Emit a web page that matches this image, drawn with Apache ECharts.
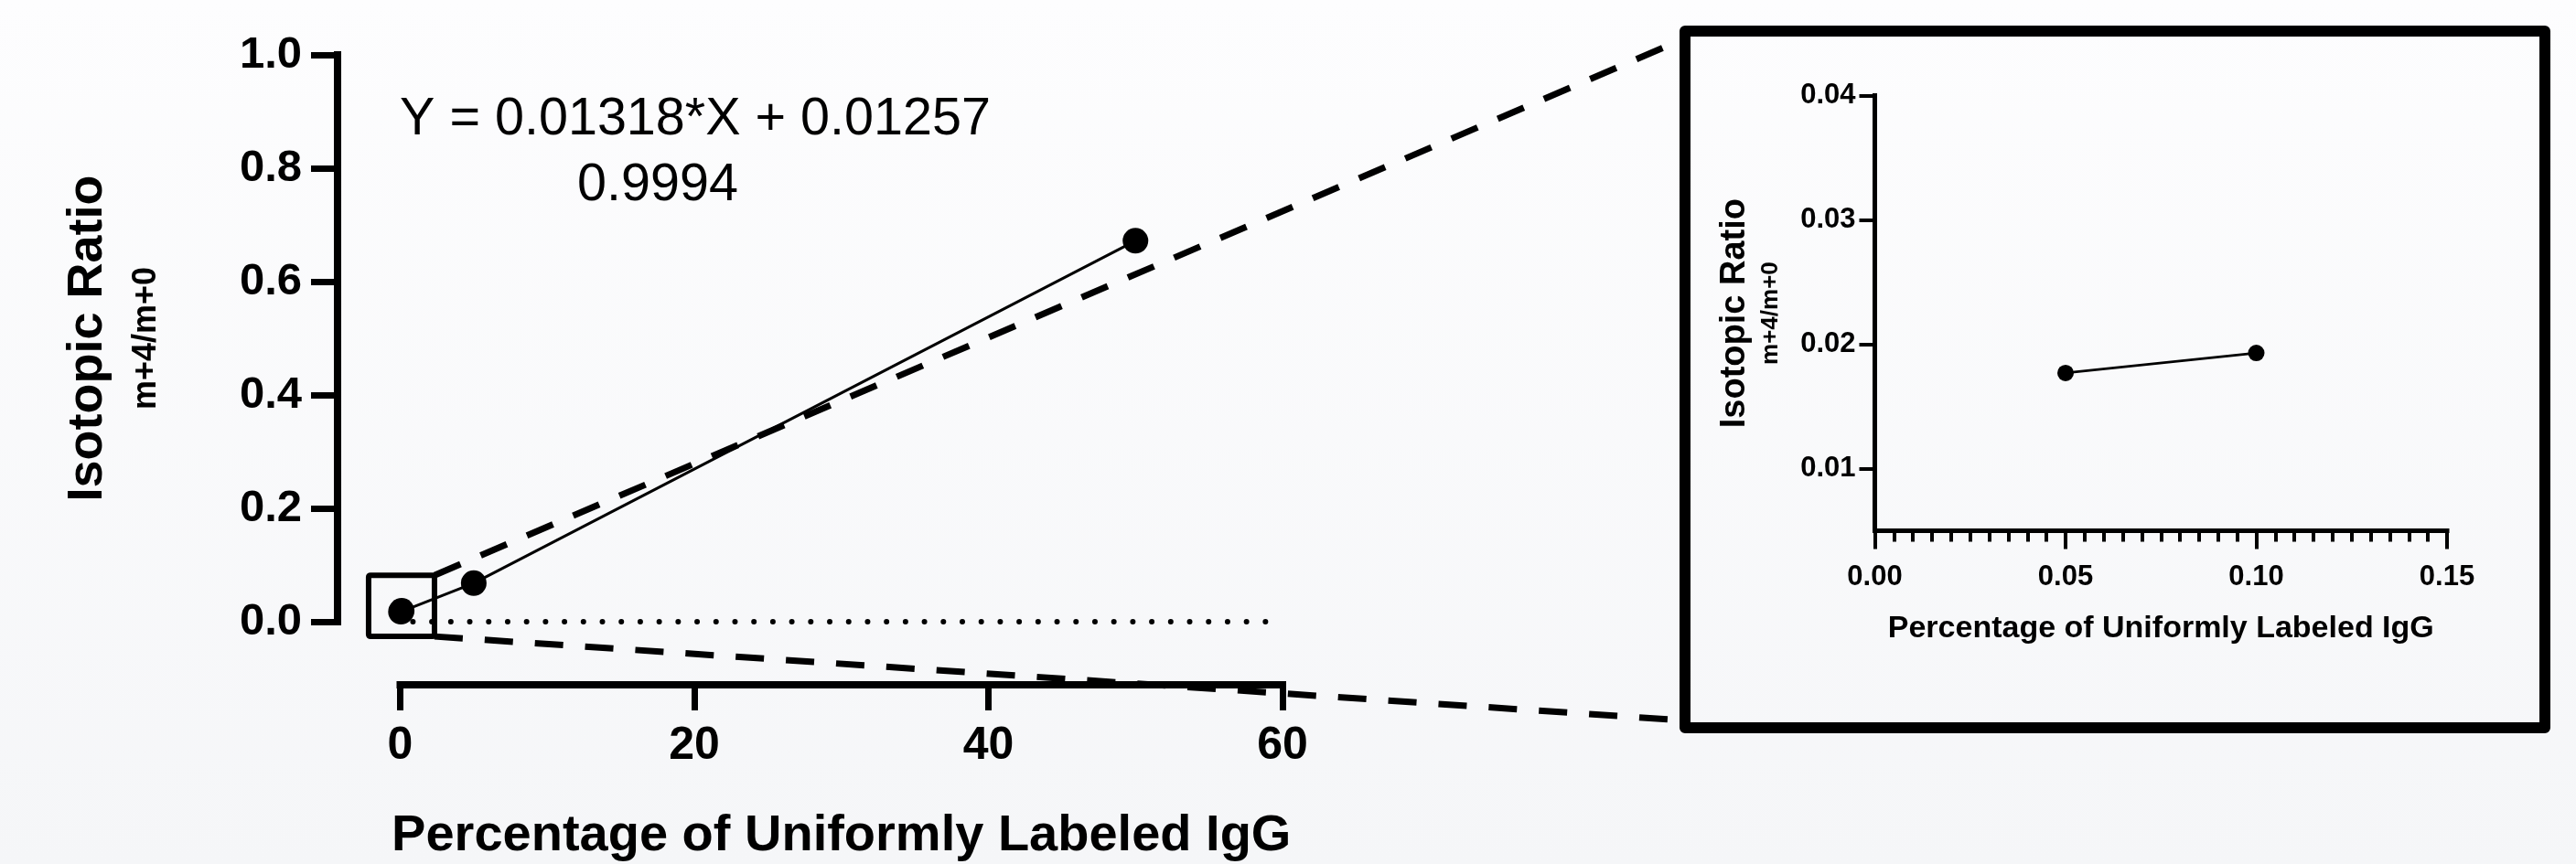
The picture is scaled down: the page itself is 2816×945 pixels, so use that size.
<!DOCTYPE html>
<html><head><meta charset="utf-8">
<script src="https://cdn.jsdelivr.net/npm/echarts@6/dist/echarts.min.js"></script>
<style>html,body{margin:0;padding:0;background:#f8f9fb}#c{width:2816px;height:945px}</style>
</head><body><div id="c"></div>
<script>
// ---- data ----
const pctLabeled = [0.05, 0.1, 5, 50];
const isoRatio = [0.0177, 0.0193, 0.068, 0.672];
const mainXRange = [0, 60];
const mainYRange = [0, 1.0];
const insetXRange = [0, 0.15];
const insetYRange = [0.005, 0.04];
const insetYTicks = [0.01, 0.02, 0.03, 0.04];
const zeroLineX = [-3, 59];
const zoomBoxX = [-2.15, 2.33];
const zoomBoxY = [-0.026, 0.082];
const fitText = 'Y = 0.01318*X + 0.01257';
const r2Text = '0.9994';
const xTitle = 'Percentage of Uniformly Labeled IgG';
const yTitle = 'Isotopic Ratio';
const ySubTitle = 'm+4/m+0';

const F = '"Liberation Sans", Arial, Helvetica, sans-serif';
const K = '#000';
const mainPts = pctLabeled.map((x, i) => [x, isoRatio[i]]);
const insetPts = mainPts.filter(p => p[0] <= insetXRange[1]);

const chart = echarts.init(document.getElementById('c'), null, {renderer: 'canvas'});
chart.setOption({
  backgroundColor: {type: 'linear', x: 0, y: 0, x2: 0, y2: 1,
    colorStops: [{offset: 0, color: '#fdfdfe'}, {offset: 1, color: '#f5f6f8'}]},
  animation: false,
  textStyle: {fontFamily: F, color: K},
  grid: [
    {left: 437.5, top: 60, width: 964.5, height: 620, containLabel: false, outerBoundsMode: 'none'},
    {left: 2049.5, top: 104.6, width: 625.5, height: 476, containLabel: false, outerBoundsMode: 'none'}
  ],
  xAxis: [
    {gridIndex: 0, type: 'value', min: mainXRange[0], max: mainXRange[1], interval: 20,
     position: 'bottom', offset: 69,
     axisLine: {show: true, onZero: false, lineStyle: {color: K, width: 8, cap: 'square'}},
     axisTick: {show: true, length: 28, lineStyle: {color: K, width: 7}},
     axisLabel: {margin: 42, fontSize: 50, fontWeight: 'bold', color: K, fontFamily: F},
     splitLine: {show: false},
     name: xTitle, nameLocation: 'middle', nameGap: 166,
     nameTextStyle: {fontSize: 56, fontWeight: 'bold', color: K, fontFamily: F, verticalAlign: 'middle'}},
    {gridIndex: 1, type: 'value', min: insetXRange[0], max: insetXRange[1], interval: 0.05,
     position: 'bottom',
     axisLine: {show: true, onZero: false, lineStyle: {color: K, width: 5, cap: 'square'}},
     axisTick: {show: true, length: 20, lineStyle: {color: K, width: 4}},
     minorTick: {show: true, splitNumber: 10, length: 12, lineStyle: {color: K, width: 4}},
     axisLabel: {margin: 35, fontSize: 31, fontWeight: 'bold', color: K, fontFamily: F,
                 formatter: v => v.toFixed(2)},
     splitLine: {show: false}, minorSplitLine: {show: false},
     name: xTitle, nameLocation: 'middle', nameGap: 107,
     nameTextStyle: {fontSize: 34, fontWeight: 'bold', color: K, fontFamily: F, verticalAlign: 'middle'}}
  ],
  yAxis: [
    {gridIndex: 0, type: 'value', min: mainYRange[0], max: mainYRange[1], interval: 0.2,
     position: 'left', offset: 68.5,
     axisLine: {show: true, onZero: false, lineStyle: {color: K, width: 8, cap: 'square'}},
     axisTick: {show: true, length: 29, lineStyle: {color: K, width: 7}},
     axisLabel: {margin: 39, fontSize: 49, fontWeight: 'bold', color: K, fontFamily: F,
                 formatter: v => v.toFixed(1)},
     splitLine: {show: false},
     name: '{a|' + yTitle + '}\n{b|' + ySubTitle + '}', nameLocation: 'middle', nameGap: 241, nameRotate: 90,
     nameTextStyle: {align: 'center', verticalAlign: 'middle',
       rich: {a: {fontSize: 54, fontWeight: 'bold', lineHeight: 64, color: K, fontFamily: F, align: 'center'},
              b: {fontSize: 36, fontWeight: 'bold', lineHeight: 64, color: K, fontFamily: F, align: 'center'}}}},
    {gridIndex: 1, type: 'value', min: insetYRange[0], max: insetYRange[1],
     position: 'left',
     axisLine: {show: true, onZero: false, lineStyle: {color: K, width: 5, cap: 'square'}},
     axisTick: {show: true, length: 17, lineStyle: {color: K, width: 4}, customValues: insetYTicks},
     axisLabel: {margin: 21, fontSize: 31, fontWeight: 'bold', color: K, fontFamily: F,
                 customValues: insetYTicks, formatter: v => v.toFixed(2)},
     splitLine: {show: false},
     name: '{a|' + yTitle + '}\n{b|' + ySubTitle + '}', nameLocation: 'middle', nameGap: 133, nameRotate: 90,
     nameTextStyle: {align: 'center', verticalAlign: 'middle',
       rich: {a: {fontSize: 38, fontWeight: 'bold', lineHeight: 39, color: K, fontFamily: F, align: 'center'},
              b: {fontSize: 26, fontWeight: 'bold', lineHeight: 39, color: K, fontFamily: F, align: 'center'}}}}
  ],
  series: [
    {type: 'line', xAxisIndex: 0, yAxisIndex: 0, clip: false, silent: true,
     data: zeroLineX.map(x => [x, 0]), showSymbol: false, symbol: 'none',
     lineStyle: {color: K, width: 6, type: [0.01, 20.7], cap: 'round'}},
    {type: 'line', xAxisIndex: 0, yAxisIndex: 0, clip: false,
     data: mainPts, symbol: 'circle', symbolSize: 28,
     itemStyle: {color: K}, lineStyle: {color: K, width: 3}},
    {type: 'line', xAxisIndex: 1, yAxisIndex: 1, clip: true,
     data: insetPts, symbol: 'circle', symbolSize: 18,
     itemStyle: {color: K}, lineStyle: {color: K, width: 3}}
  ]
});

// zoom box & connectors, positioned through the main grid's scales
const tl = chart.convertToPixel({xAxisIndex: 0, yAxisIndex: 0}, [zoomBoxX[0], zoomBoxY[1]]);
const br = chart.convertToPixel({xAxisIndex: 0, yAxisIndex: 0}, [zoomBoxX[1], zoomBoxY[0]]);
const frame = {x: 1842, y: 34, w: 940, h: 762};
chart.setOption({
  graphic: [
    {type: 'rect', z: 100, shape: {x: tl[0], y: tl[1], width: br[0] - tl[0], height: br[1] - tl[1], r: 2},
     style: {fill: 'none', stroke: K, lineWidth: 6, lineJoin: 'round'}},
    {type: 'line', z: 100, shape: {x1: br[0], y1: tl[1], x2: frame.x, y2: frame.y + 8},
     style: {stroke: K, lineWidth: 7, lineDash: [31, 24]}},
    {type: 'line', z: 100, shape: {x1: br[0], y1: br[1], x2: frame.x, y2: frame.y + frame.h - 8},
     style: {stroke: K, lineWidth: 7, lineDash: [31, 24]}},
    {type: 'rect', z: 100, shape: {x: frame.x, y: frame.y, width: frame.w, height: frame.h},
     style: {fill: 'none', stroke: K, lineWidth: 12, lineJoin: 'round'}},
    {type: 'text', z: 100, style: {x: 760, y: 131, text: fitText, fontSize: 57.5, fontFamily: F,
     fill: K, align: 'center', verticalAlign: 'middle'}},
    {type: 'text', z: 100, style: {x: 719, y: 203, text: r2Text, fontSize: 57.5, fontFamily: F,
     fill: K, align: 'center', verticalAlign: 'middle'}}
  ]
});
</script>
</body></html>
